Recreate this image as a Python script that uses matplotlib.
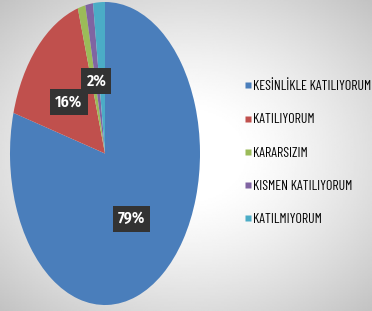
import matplotlib
matplotlib.use("Agg")
import matplotlib.pyplot as plt
import numpy as np
from matplotlib.lines import Line2D

categories = ["KESİNLİKLE KATILIYORUM", "KATILIYORUM", "KARARSIZIM",
              "KISMEN KATILIYORUM", "KATILMIYORUM"]
values = [79, 16, 1.3, 1.3, 2]
shown_labels = ["79%", "16%", None, None, "2%"]
colors = ["#4A7EBB", "#C0504D", "#9BBB59", "#8064A2", "#4BACC6"]

plt.rcParams['font.family'] = ['Barlow Condensed', 'DejaVu Sans']

fig = plt.figure(figsize=(3.72, 3.11), dpi=100)

# background: soft gray vignette
bg = fig.add_axes([0, 0, 1, 1])
yy, xx = np.mgrid[-1:1:200j, -1:1:240j]
r = np.sqrt((xx * 0.9) ** 2 + (yy * 0.95) ** 2)
shade = 1 - 0.22 * np.clip(r - 0.25, 0, None) ** 1.3
bg.imshow(shade, cmap="gray", vmin=0, vmax=1, aspect="auto", extent=[0, 1, 0, 1])
bg.axis("off")

ax = fig.add_axes([10 / 372, 6 / 311, 190 / 372, 303 / 311])
ax.pie(values, colors=colors, startangle=90, counterclock=False,
       wedgeprops=dict(linewidth=0))
ax.set_aspect("auto")
ax.set_xlim(-1, 1)
ax.set_ylim(-1, 1)
ax.axis("off")

# data labels as dark boxes
label_pos = {0: (0.28, -0.43), 1: (-0.38, 0.34), 4: (-0.09, 0.48)}
for i, txt in enumerate(shown_labels):
    if txt is None:
        continue
    x, y = label_pos[i]
    ax.text(x, y, txt, color="white", fontsize=11.5, fontweight="semibold",
            family=["Fira Sans Condensed", "DejaVu Sans"],
            ha="center", va="center",
            bbox=dict(boxstyle="square,pad=0.32", fc="#333333", ec="none"))

handles = [Line2D([], [], marker="s", linestyle="none", markersize=5,
                  markerfacecolor=c, markeredgecolor="none") for c in colors]
fig.legend(handles, categories, loc="center left",
           bbox_to_anchor=(237 / 372, 0.508), frameon=False,
           fontsize=10, handlelength=0.6, handletextpad=0.05,
           labelspacing=1.45, borderpad=0)

fig.savefig("out.png", dpi=100)
